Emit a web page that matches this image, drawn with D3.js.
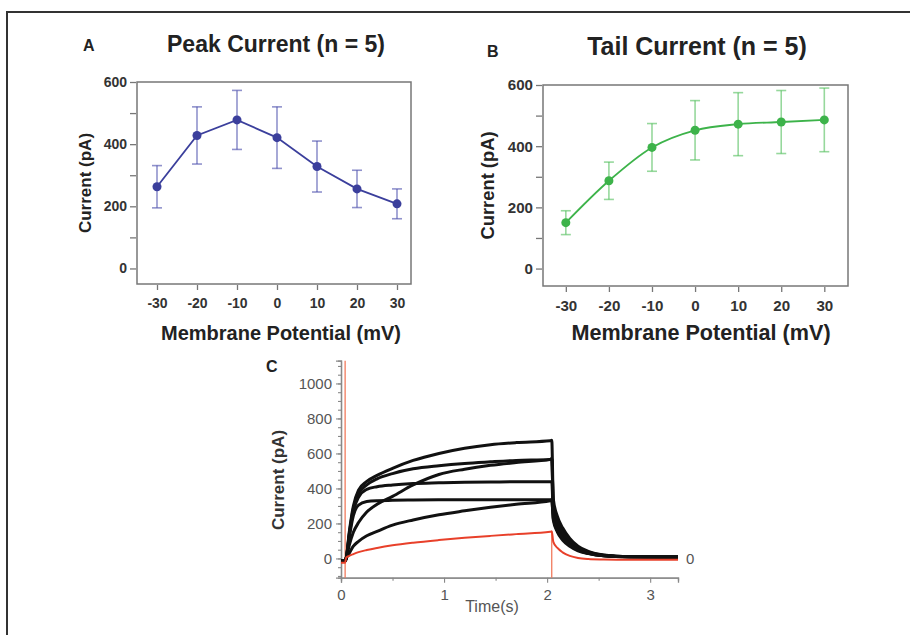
<!DOCTYPE html>
<html>
<head>
<meta charset="utf-8">
<script src="https://cdn.jsdelivr.net/npm/d3@7"></script>
<style>
  body { margin: 0; background: #fff; }
  svg { display: block; }
  text { font-family: "Liberation Sans", Arial, Helvetica, sans-serif; }
</style>
</head>
<body>
<svg width="910" height="635"></svg>
<script>
// ---- data ----
let voltages  = [-30, -20, -10, 0, 10, 20, 30];
let peakMean  = [263, 428, 478, 421, 328, 256, 208];
let peakErr   = [68, 92, 95, 99, 82, 60, 48];
let tailMean  = [150, 287, 396, 452, 472, 479, 486];
let tailErr   = [39, 61, 78, 97, 103, 103, 104];

let ivTicks    = [0, 200, 400, 600];
let ivMinor    = [100, 300, 500];

// panel C traces, sampled at these times (s)
let traceTime = [0, 0.04, 0.05, 0.08, 0.12, 0.17, 0.25, 0.35, 0.5, 0.7, 0.95, 1.2, 1.45, 1.7, 2.03, 2.045, 2.06, 2.1, 2.15, 2.22, 2.3, 2.4, 2.55, 2.8, 3.27];
let trace1 = [-15, -15, 0, 150, 300, 390, 440, 475, 515, 560, 600, 630, 650, 662, 672, 676, 340, 240, 175, 115, 70, 40, 20, 10, 8];
let trace2 = [-15, -15, 0, 140, 285, 370, 420, 455, 485, 512, 530, 543, 552, 560, 566, 570, 310, 215, 155, 100, 62, 36, 18, 10, 8];
let trace3 = [-15, -15, 0, 75, 150, 205, 265, 310, 355, 420, 480, 510, 532, 548, 566, 570, 300, 205, 145, 95, 58, 34, 17, 10, 8];
let trace4 = [-15, -15, 0, 130, 270, 350, 395, 410, 420, 428, 432, 435, 437, 438, 438, 440, 260, 180, 125, 82, 50, 30, 16, 10, 8];
let trace5 = [-15, -15, 0, 120, 245, 305, 325, 330, 332, 334, 335, 335, 335, 335, 335, 338, 220, 150, 105, 70, 44, 28, 15, 9, 8];
let trace6 = [-15, -15, 0, 30, 70, 98, 130, 155, 190, 220, 250, 272, 292, 310, 330, 332, 230, 160, 115, 75, 47, 29, 15, 9, 8];
let traceRed = [-25, -25, 5, 15, 25, 36, 48, 60, 75, 90, 105, 118, 129, 139, 152, 155, 95, 60, 35, 15, 3, -3, -6, -8, -8];
let blackTraces = [trace1, trace2, trace3, trace4, trace5, trace6];

// red capacitive artefacts
let spikeTime = [0.04, 2.045];
let spikeTop  = [1130, 155];

let cTicks  = [0, 200, 400, 600, 800, 1000];
let cMinor  = d3.range(-100, 1101, 50);
let tTicks  = [0, 1, 2, 3];
let tMinor  = [0.5, 1.5, 2.5];

let svg = d3.select("svg");

// outer frame (top and left only)
svg.append("path")
   .attr("d", "M7,635 L7,12 L910,12")
   .attr("fill", "none")
   .attr("stroke", "#333")
   .attr("stroke-width", 2);

function ivPanel(o) {
    let x = d3.scaleLinear().domain(o.xDomain).range([o.left, o.right]);
    let y = d3.scaleLinear().domain(o.yDomain).range([o.bottom, o.top]);
    let g = svg.append("g");
    let fs = o.fs;

    g.append("rect")
     .attr("x", o.left).attr("y", o.top)
     .attr("width", o.right - o.left).attr("height", o.bottom - o.top)
     .attr("fill", "none").attr("stroke", "#777").attr("stroke-width", 1.5);

    let ya = g.append("g")
              .attr("transform", "translate(" + (o.left - 1) + ",0)")
              .call(d3.axisLeft(y).tickValues(ivTicks.concat(ivMinor)).tickSize(6)
                      .tickFormat(d => ivTicks.includes(d) ? String(d) : ""));
    let xa = g.append("g")
              .attr("transform", "translate(0," + (o.bottom + 1) + ")")
              .call(d3.axisBottom(x).tickValues(voltages).tickSize(5)
                      .tickFormat(d => String(d)));
    [ya, xa].forEach(a => {
        a.select(".domain").remove();
        a.selectAll("line").attr("stroke", "#777").attr("stroke-width", 1.3);
        a.selectAll("text").attr("fill", "#333").attr("font-size", 14 * fs)
         .attr("font-weight", "bold");
    });
    xa.selectAll("text").attr("dy", "1.05em");

    let pts = voltages.map((v, i) => ({ v: v, m: o.mean[i], e: o.err[i] }));

    let eb = g.append("g").attr("stroke", o.errColor).attr("stroke-width", 1.6);
    pts.forEach(p => {
        eb.append("line").attr("x1", x(p.v)).attr("x2", x(p.v))
          .attr("y1", y(p.m - p.e)).attr("y2", y(p.m + p.e));
        [p.m - p.e, p.m + p.e].forEach(val => {
            eb.append("line").attr("x1", x(p.v) - 5).attr("x2", x(p.v) + 5)
              .attr("y1", y(val)).attr("y2", y(val));
        });
    });

    g.append("path")
     .datum(pts)
     .attr("d", d3.line().x(d => x(d.v)).y(d => y(d.m)).curve(o.curve))
     .attr("fill", "none").attr("stroke", o.color).attr("stroke-width", 1.8);

    g.selectAll(null).data(pts).enter().append("circle")
     .attr("cx", d => x(d.v)).attr("cy", d => y(d.m)).attr("r", 4.5)
     .attr("fill", o.color);

    g.append("text").text(o.letter)
     .attr("x", o.letterX).attr("y", o.letterY)
     .attr("font-size", 16).attr("font-weight", "bold").attr("fill", "#222");
    g.append("text").text(o.title)
     .attr("x", o.titleX).attr("y", o.titleY).attr("text-anchor", "middle")
     .attr("font-size", o.titleSize).attr("font-weight", "bold").attr("fill", "#222");
    g.append("text").text("Current (pA)")
     .attr("transform", "translate(" + o.yTitleX + "," + ((o.top + o.bottom) / 2) + ") rotate(-90)")
     .attr("text-anchor", "middle").attr("dy", "0.35em")
     .attr("font-size", 17 * fs).attr("font-weight", "bold").attr("fill", "#222");
    g.append("text").text("Membrane Potential (mV)")
     .attr("x", o.xTitleX).attr("y", 340).attr("text-anchor", "middle")
     .attr("font-size", 20 * fs).attr("font-weight", "bold").attr("fill", "#222");
}

ivPanel({
    xDomain: [-35, 33.5], yDomain: [-50, 600],
    left: 137, right: 411, top: 82, bottom: 284,
    mean: peakMean, err: peakErr, curve: d3.curveLinear,
    color: "#3b3f9c", errColor: "rgba(70,74,170,0.6)",
    letter: "A", letterX: 83, letterY: 51,
    title: "Peak Current (n = 5)", titleX: 276, titleY: 52, titleSize: 23,
    yTitleX: 85, xTitleX: 281, fs: 1
});

ivPanel({
    xDomain: [-35.3, 35.5], yDomain: [-57, 600],
    left: 543, right: 848, top: 85, bottom: 286,
    mean: tailMean, err: tailErr, curve: d3.curveMonotoneX,
    color: "#3db34a", errColor: "rgba(80,190,90,0.6)",
    letter: "B", letterX: 487, letterY: 57,
    title: "Tail Current (n = 5)", titleX: 697, titleY: 55, titleSize: 25,
    yTitleX: 488, xTitleX: 701, fs: 1.08
});

// ---- panel C ----
let cx = d3.scaleLinear().domain([0, 3.27]).range([341, 678]);
let cy = d3.scaleLinear().domain([-110, 1130]).range([577.7, 360.7]);
let gc = svg.append("g");

gc.append("clipPath").attr("id", "clipC")
  .append("rect").attr("x", 341).attr("y", 360).attr("width", 338).attr("height", 218);

let cYMinor = gc.append("g").attr("transform", "translate(341,0)")
                .call(d3.axisLeft(cy).tickValues(cMinor).tickSize(3).tickFormat(""));
let cYMajor = gc.append("g").attr("transform", "translate(341,0)")
                .call(d3.axisLeft(cy).tickValues(cTicks).tickSize(5).tickFormat(d => String(d)));
let cXMinor = gc.append("g").attr("transform", "translate(0,577.7)")
                .call(d3.axisBottom(cx).tickValues(tMinor).tickSize(3).tickFormat(""));
let cXMajor = gc.append("g").attr("transform", "translate(0,577.7)")
                .call(d3.axisBottom(cx).tickValues(tTicks).tickSize(5).tickFormat(d => String(d)));
[cYMinor, cYMajor, cXMinor, cXMajor].forEach(a => {
    a.select(".domain").attr("stroke", "#888").attr("stroke-width", 1.3);
    a.selectAll("line").attr("stroke", "#888").attr("stroke-width", 1.1);
    a.selectAll("text").attr("fill", "#555").attr("font-size", 15);
});
cYMajor.selectAll("text").attr("x", -9);
cXMajor.selectAll("text").attr("dy", "0.95em");

let traceLine = d3.line()
                  .x((d, i) => cx(traceTime[i]))
                  .y(d => cy(d))
                  .curve(d3.curveMonotoneX);

let tg = gc.append("g").attr("clip-path", "url(#clipC)");

// red artefact lines
spikeTime.forEach((t, i) => {
    tg.append("line")
      .attr("x1", cx(t)).attr("x2", cx(t))
      .attr("y1", cy(-110)).attr("y2", cy(spikeTop[i]))
      .attr("stroke", "#f07050").attr("stroke-width", 1.2);
});

blackTraces.forEach(tr => {
    tg.append("path").datum(tr)
      .attr("d", traceLine)
      .attr("fill", "none").attr("stroke", "#111")
      .attr("stroke-width", 3).attr("stroke-linejoin", "round");
});

tg.append("path").datum(traceRed)
  .attr("d", traceLine)
  .attr("fill", "none").attr("stroke", "#e8402a").attr("stroke-width", 2);

gc.append("text").text("0")
  .attr("x", 686).attr("y", cy(0)).attr("dy", "0.35em")
  .attr("font-size", 15).attr("fill", "#555");

gc.append("text").text("C")
  .attr("x", 266).attr("y", 372)
  .attr("font-size", 16).attr("font-weight", "bold").attr("fill", "#222");

gc.append("text").text("Current (pA)")
  .attr("transform", "translate(278,480) rotate(-90)")
  .attr("text-anchor", "middle").attr("dy", "0.35em")
  .attr("font-size", 17).attr("font-weight", "bold").attr("fill", "#333");

gc.append("text").text("Time(s)")
  .attr("x", 492).attr("y", 612).attr("text-anchor", "middle")
  .attr("font-size", 16).attr("fill", "#555");
</script>
</body>
</html>
